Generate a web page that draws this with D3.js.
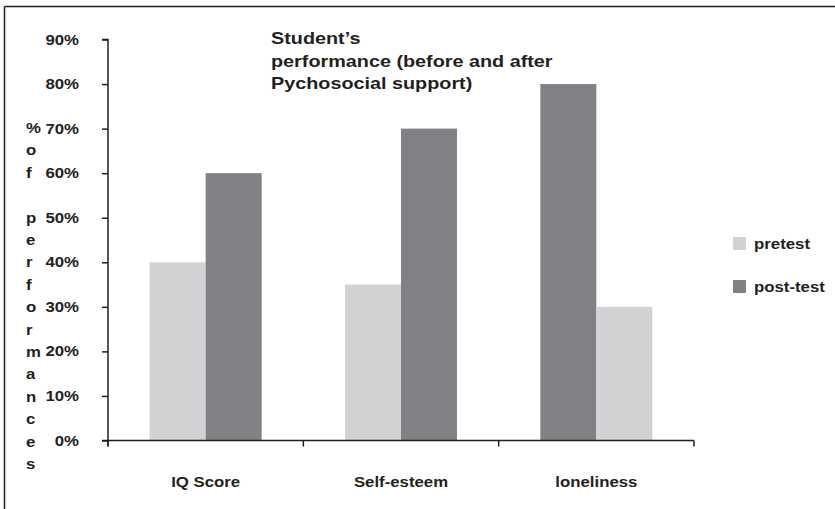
<!DOCTYPE html>
<html>
<head>
<meta charset="utf-8">
<script src="https://cdn.jsdelivr.net/npm/d3@7/dist/d3.min.js"></script>
<style>
  body { margin: 0; background: #fff; }
  svg { display: block; font-family: "Liberation Sans", Arial, sans-serif; font-weight: bold; }
</style>
</head>
<body>
<script>
// data
const categories = ['IQ Score', 'Self-esteem', 'loneliness'];
const series = ['pretest', 'post-test'];
const pretest = [40, 35, 30];
const postTest = [60, 70, 80];
// bar order inside each group (loneliness has post-test first)
const groupOrder = [
  ['pretest', 'post-test'],
  ['pretest', 'post-test'],
  ['post-test', 'pretest']
];
const yTicks = [0, 10, 20, 30, 40, 50, 60, 70, 80, 90];
const titleLines = ['Student\u2019s', 'performance (before and after', 'Pychosocial support)'];
const yTitle = '% of performances';

const colors = { 'pretest': '#d1d2d4', 'post-test': '#808184' };
const textColor = '#231f20';

const W = 835, H = 509;
const m = { left: 108 };
const SX = 1.2; // text in the picture is a bit wider than Arial

const svg = d3.select(document.body).append('svg')
  .attr('width', W).attr('height', H);

// text drawn with a horizontal stretch
function addText(parent, x, y, txt, size, anchor) {
  return parent.append('text')
    .attr('transform', `translate(${x},${y}) scale(${SX},1)`)
    .attr('text-anchor', anchor || 'start')
    .attr('fill', textColor)
    .style('font-size', size + 'px')
    .text(txt);
}

// frame: top and left lines only
svg.append('line').attr('x1', 4.5).attr('x2', W).attr('y1', 6.5).attr('y2', 6.5)
  .attr('stroke', '#231f20').attr('stroke-width', 1.5);
svg.append('line').attr('x1', 4.5).attr('x2', 4.5).attr('y1', 6.5).attr('y2', H)
  .attr('stroke', '#231f20').attr('stroke-width', 1.5);

const y = d3.scaleLinear().domain([0, 90]).range([440.5, 39.5]);
const x = d3.scaleBand().domain(categories).range([m.left, 694]);
const inner = d3.scaleBand().domain([0, 1]).range([0, 112]);

const values = { 'pretest': pretest, 'post-test': postTest };

const g = svg.append('g');
categories.forEach((c, i) => {
  const x0 = x(c) + (x.bandwidth() - 112) / 2;
  groupOrder[i].forEach((s, j) => {
    g.append('rect')
      .attr('x', x0 + inner(j))
      .attr('width', inner.bandwidth())
      .attr('y', y(values[s][i]))
      .attr('height', y(0) - y(values[s][i]))
      .attr('fill', colors[s]);
  });
});

// y axis
const yAxis = d3.axisLeft(y).tickValues(yTicks).tickFormat('').tickSize(6);
const ya = svg.append('g').attr('transform', `translate(${m.left},0)`).call(yAxis);
ya.select('.domain').attr('d', `M-6,${y(90)}H0V${y(0) + 6}`);
ya.selectAll('line, path').attr('stroke', textColor).attr('stroke-width', 1.5);
yTicks.forEach(t => addText(svg, 79, y(t) + 5, t + '%', 14, 'end'));

// x axis
const xa = svg.append('g').attr('transform', `translate(0,${y(0)})`);
xa.append('line').attr('x1', m.left - 6).attr('x2', 694).attr('y1', 0).attr('y2', 0);
const bounds = categories.map(c => x(c)).concat([x(categories[2]) + x.bandwidth()]);
xa.selectAll('.bt').data(bounds).enter().append('line').attr('class', 'bt')
  .attr('x1', d => d).attr('x2', d => d).attr('y1', 0).attr('y2', 6);
xa.selectAll('line').attr('stroke', textColor).attr('stroke-width', 1.5);
categories.forEach(c => addText(xa, x(c) + x.bandwidth() / 2, 46, c, 14, 'middle'));

// vertical letter-stacked axis title
const letters = yTitle.replace('% ', '%').split('');
letters.forEach((l, i) => addText(svg, 26, 133 + i * 22.4, l, 14));

// title
titleLines.forEach((t, i) => addText(svg, 271, 44 + i * 22.5, t, 16.5));

// legend
const lg = svg.append('g').attr('transform', 'translate(733,237)');
series.forEach((s, i) => {
  lg.append('rect').attr('x', 0).attr('y', i * 43).attr('width', 13).attr('height', 13).attr('fill', colors[s]);
  addText(lg, 21, i * 43 + 12, s, 14);
});
</script>
</body>
</html>
